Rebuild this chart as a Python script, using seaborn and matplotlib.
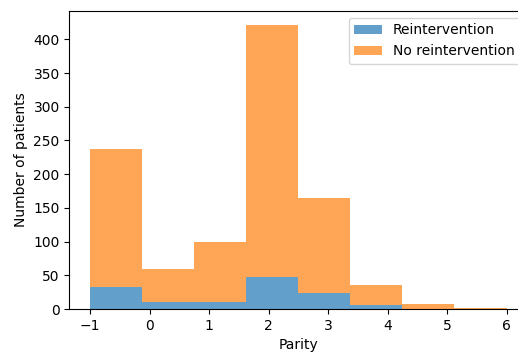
import matplotlib
matplotlib.use("Agg")
import matplotlib.pyplot as plt
import matplotlib.patches as mpatches
import seaborn as sns
import pandas as pd

parity = [-1, 0, 1, 2, 3, 4, 5, 6]
reintervention = [33, 10, 10, 47, 24, 6, 0, 0]
no_reintervention = [205, 49, 90, 374, 141, 30, 8, 2]
labels = ["Reintervention", "No reintervention"]

df = pd.DataFrame({
    "Parity": parity * 2,
    "count": reintervention + no_reintervention,
    "group": [labels[0]] * len(parity) + [labels[1]] * len(parity),
})

blue = "#1f77b4"
orange = "#ff7f0e"

fig = plt.figure(figsize=(5.18, 3.54), dpi=100)
ax = fig.add_axes([0.134, 0.127, 0.884, 0.842])

sns.histplot(
    data=df, x="Parity", weights="count", hue="group",
    hue_order=[labels[1], labels[0]],
    palette={labels[0]: blue, labels[1]: orange},
    bins=8, binrange=(-1, 6), multiple="stack", element="bars",
    alpha=0.7, linewidth=0, legend=False, ax=ax,
)

ax.set_xlabel("Parity")
ax.set_ylabel("Number of patients")
ax.margins(x=0.05, y=0.05)
ax.set_xticks(range(-1, 7))
ax.set_yticks(range(0, 401, 50))

handles = [mpatches.Patch(color=blue, alpha=0.7, lw=0),
           mpatches.Patch(color=orange, alpha=0.7, lw=0)]
ax.legend(handles, labels, loc="upper right")

fig.savefig("out.png", dpi=100)
